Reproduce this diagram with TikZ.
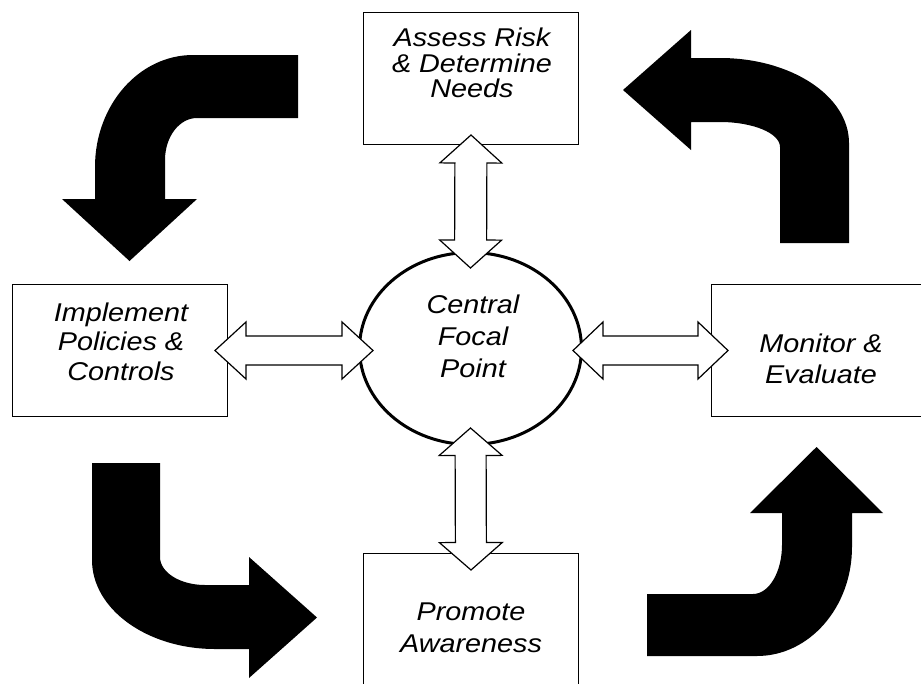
\documentclass[tikz,border=0pt]{standalone}
\usepackage{fontspec}
\newfontfamily\diagfont{Liberation Sans}[FakeStretch=1.12]
\usetikzlibrary{shapes.geometric,calc}

% hollow two-headed link: from, to, head length, head half width, shaft half width
\newcommand\dbllink[5]{%
  \coordinate (h1) at ($(#1)!#3!(#2)$);
  \coordinate (h2) at ($(#2)!#3!(#1)$);
  \draw[hollow] (#1) -- ($(h1)!#4!90:(#2)$) -- ($(h1)!#5!90:(#2)$)
    -- ($(h2)!#5!-90:(#1)$) -- ($(h2)!#4!-90:(#1)$) -- (#2)
    -- ($(h2)!#4!90:(#1)$) -- ($(h2)!#5!90:(#1)$)
    -- ($(h1)!#5!-90:(#2)$) -- ($(h1)!#4!-90:(#2)$) -- cycle;}

\begin{document}
\begin{tikzpicture}[x=1pt,y=-1pt,
  stage/.style={draw, line width=1.5pt, minimum width=215pt, minimum height=132pt,
    inner sep=0pt, outer sep=0pt},
  hub/.style={ellipse, draw, line width=3pt, minimum width=222pt, minimum height=192pt,
    inner sep=0pt, outer sep=0pt},
  words/.style={align=center, inner sep=0pt,
    font=\diagfont\itshape\fontsize{25.7}{#1}\selectfont},
  words/.default=31,
  hollow/.style={draw, fill=white, line width=1.2pt, line join=miter},
  cycle arrow/.style={fill=black}]

  \clip (0,0) rectangle (921,683);

  % Stages and the hub
  \node[stage] (assess) at (471,78.5) {};
  \node[stage] (implement) at (120,350.5) {};
  \node[stage] (monitor) at (819,350.5) {};
  \node[stage] (promote) at (471,619.5) {};
  \node[hub] (focal) at (470.5,348.5) {};

  \node[words=25.5] (assesstext) at (472,63) {Assess Risk\\\& Determine\\Needs};
  \node[words=29.5] (implementtext) at (121,341.5) {Implement\\Policies \&\\Controls};
  \node[words=31] (monitortext) at (821,359) {Monitor \&\\Evaluate};
  \node[words=32] (promotetext) at (471,627.5) {Promote\\Awareness};
  \node[words=32] (focaltext) at (473,336) {Central\\Focal\\Point};

  % Links to the hub
  \coordinate (assesstip) at ($(assess.south)+(0,-9.5)$);
  \coordinate (hubtop) at ($(focal.north)+(0,15.5)$);
  \coordinate (hubbottom) at ($(focal.south)+(0,-16.5)$);
  \coordinate (promotetip) at ($(promote.north)+(0,16.5)$);
  \coordinate (implementtip) at ($(implement.east)+(-12.5,0)$);
  \coordinate (hubleft) at ($(focal.west)+(13.5,2)$);
  \coordinate (hubright) at ($(focal.east)+(-8.5,2)$);
  \coordinate (monitortip) at ($(monitor.west)+(16.5,0)$);

  \dbllink{assesstip}{hubtop}{28pt}{31pt}{16pt}
  \dbllink{hubbottom}{promotetip}{27.5pt}{31.5pt}{15.5pt}
  \dbllink{implementtip}{hubleft}{31pt}{28.5pt}{14.5pt}
  \dbllink{hubright}{monitortip}{30pt}{28.5pt}{14.5pt}

  % Cycle arrows
  \fill[cycle arrow] (298,55) -- (193,55) .. controls (138.9,55) and (95,105.2) .. (95,167)
    -- (95,199) -- (62,199) -- (129.5,261) -- (197,199) -- (165,199) -- (165,160)
    .. controls (165,136.8) and (179.3,118) .. (197,118) -- (298,118) -- cycle;
  \fill[cycle arrow] (623,90) -- (691,30) -- (691,58) -- (720,58)
    .. controls (791.2,58) and (849,96.1) .. (849,143) -- (849,243) -- (780,243)
    -- (780,147) .. controls (780,133.2) and (753.1,122) .. (720,122)
    -- (691,122) -- (691,150) -- cycle;
  \fill[cycle arrow] (92,463) -- (160,463) -- (160,557)
    .. controls (160,572.5) and (180.2,585) .. (205,585) -- (249,585) -- (249,557)
    -- (317,617.5) -- (249,678) -- (249,649) -- (215,649)
    .. controls (147.1,649) and (92,609.1) .. (92,560) -- cycle;
  \fill[cycle arrow] (647,594) -- (753,594) .. controls (769,594) and (782,572) .. (782,545)
    -- (782,513) -- (750,513) -- (816.5,447) -- (883,513) -- (852,513) -- (852,547)
    .. controls (852,607.2) and (809.4,656) .. (757,656) -- (647,656) -- cycle;
\end{tikzpicture}
\end{document}
